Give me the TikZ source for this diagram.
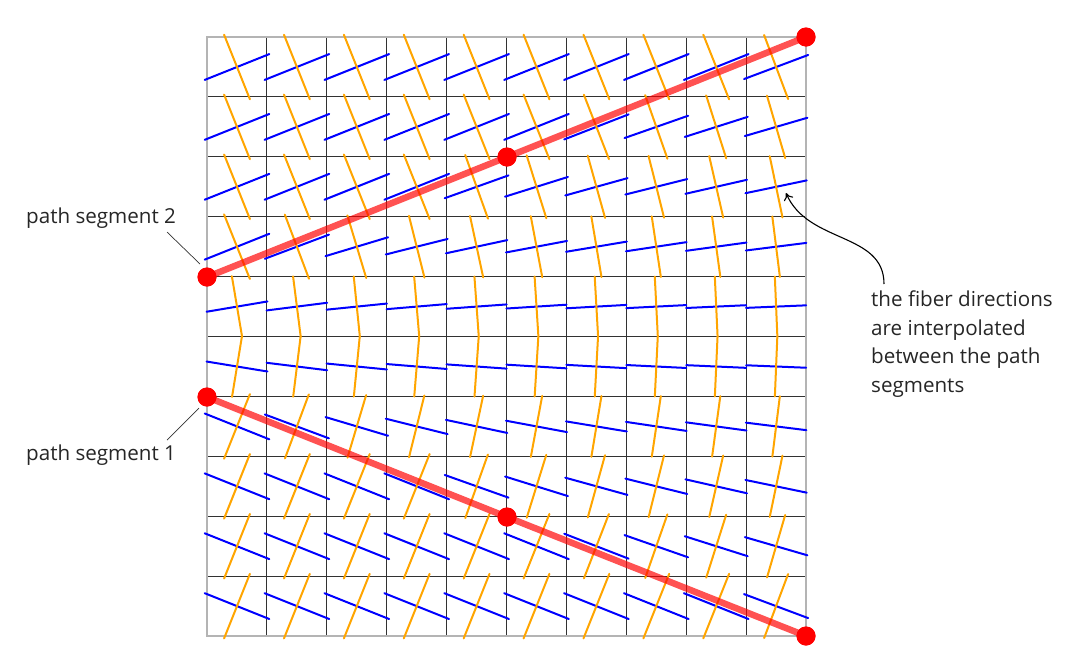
\documentclass[tikz,border=0pt]{standalone}
\usepackage{fontspec}
\setmainfont{Open Sans}
\usetikzlibrary{arrows.meta}
\definecolor{fblue}{RGB}{0,0,255}
\definecolor{forange}{RGB}{255,165,0}
\definecolor{gridgrey}{RGB}{50,50,50}
\definecolor{bordergrey}{RGB}{180,180,180}
\tikzset{
  fiberblue/.style={draw=fblue, line width=2pt, line cap=round},
  fiberorange/.style={draw=forange, line width=2pt, line cap=round},
  gridline/.style={draw=gridgrey, line width=1pt},
  borderline/.style={draw=bordergrey, line width=2pt},
  redpath/.style={draw=red, line width=6.5pt, opacity=0.68},
  reddot/.style={circle, fill=red, inner sep=0pt, minimum size=19pt},
  lbl/.style={font=\fontsize{20.6}{28.5}\selectfont, inner sep=0pt, text=black!85},
  leader/.style={draw=black!80, line width=0.7pt},
}
\begin{document}
\begin{tikzpicture}[x=1pt, y=-1pt]
\useasboundingbox (0,0) rectangle (1090,670);
% grid
\foreach \k in {1,...,9}{
  \draw[gridline] ({207+59.9*\k},37) -- ({207+59.9*\k},636);
  \draw[gridline] (207,{37+59.9*\k}) -- (806,{37+59.9*\k});
}
\draw[borderline] (207,37) rectangle (806,636);
% fibers
\foreach \i in {0,...,9}{
  \foreach \j in {0,...,9}{
    \pgfmathsetmacro\cx{237+59.9*\i}
    \pgfmathsetmacro\cy{67+59.9*\j}
    \pgfmathsetmacro\ya{277-0.4*(\cx-207)}
    \pgfmathsetmacro\yb{397+0.4*(\cx-207)}
    \pgfmathsetmacro\fw{max(0,min(1,(\cy-\ya)/(\yb-\ya)))}
    \pgfmathsetmacro\tn{0.4-0.8*\fw}
    \pgfmathsetmacro\fh{30*sqrt(1+\tn*\tn)}
    \pgfmathsetmacro\fd{\fh*\tn}
    \draw[fiberblue] (\cx-\fh, \cy+\fd) -- (\cx+\fh, \cy-\fd);
    \draw[fiberorange] (\cx-\fd, \cy-\fh) -- (\cx+\fd, \cy+\fh);
  }
}
% path segment dots
\node[reddot] (s2a) at (207,277) {};
\node[reddot] (s2b) at (507,157) {};
\node[reddot] (s2c) at (806,37) {};
\node[reddot] (s1a) at (207,397) {};
\node[reddot] (s1b) at (507,517) {};
\node[reddot] (s1c) at (806,636) {};
\draw[redpath] (s2a.center) -- (s2b.center) -- (s2c.center);
\draw[redpath] (s1a.center) -- (s1b.center) -- (s1c.center);
\node[reddot] at (s2a) {};
\node[reddot] at (s2b) {};
\node[reddot] at (s2c) {};
\node[reddot] at (s1a) {};
\node[reddot] at (s1b) {};
\node[reddot] at (s1c) {};
% labels
\node[lbl, anchor=base west] (lab2) at (26,223) {path segment 2};
\node[lbl, anchor=base west] (lab1) at (26,460) {path segment 1};
\coordinate (l2a) at (167,232);
\coordinate (l2b) at (200,264);
\coordinate (l1a) at (167,440);
\coordinate (l1b) at (199,408);
\draw[leader] (l2a) -- (l2b);
\draw[leader] (l1a) -- (l1b);
% annotation
\node[lbl, anchor=north west, align=left] (note) at (871,291) {the fiber directions\\are interpolated\\between the path\\segments};
\coordinate (nstart) at (884,284);
\coordinate (ntip) at (786,193);
\draw[leader, line width=1.1pt, draw=black, -{To[length=7pt,width=10pt]}] (nstart) .. controls (884,232) and (808,244) .. (ntip);
\end{tikzpicture}
\end{document}
